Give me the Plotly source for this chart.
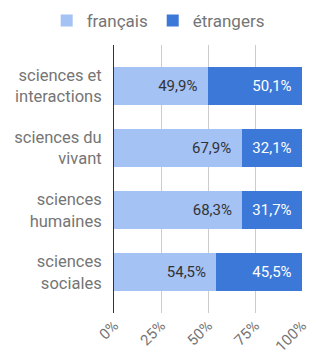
import plotly.graph_objects as go

categories = ["sciences et<br>interactions", "sciences du<br>vivant", "sciences<br>humaines", "sciences<br>sociales"]
francais = [0.499, 0.679, 0.683, 0.545]
etrangers = [0.501, 0.321, 0.317, 0.455]
tick_vals = [0, 0.25, 0.5, 0.75, 1.0]
tick_text = ["0%", "25%", "50%", "75%", "100%"]

pad = "\u00a0\u00a0"
fig = go.Figure()
fig.add_trace(go.Bar(
    y=categories, x=francais, name="français", orientation="h",
    marker=dict(color="#a4c2f4", line=dict(width=0)),
    texttemplate="%{x:.1%}" + pad, textposition="inside", insidetextanchor="end",
    textfont=dict(color="#333333", size=15),
))
fig.add_trace(go.Bar(
    y=categories, x=etrangers, name="étrangers", orientation="h",
    marker=dict(color="#3c78d8", line=dict(width=0)),
    texttemplate="%{x:.1%}" + pad, textposition="inside", insidetextanchor="end",
    textfont=dict(color="#ffffff", size=15),
))

fig.update_layout(
    width=312, height=361,
    barmode="stack", bargap=0.39,
    separators=", ",
    font=dict(family="Roboto", color="#666666", size=14),
    paper_bgcolor="white", plot_bgcolor="white",
    margin=dict(l=113.5, r=10, t=45, b=48, autoexpand=False),
    showlegend=True,
    legend=dict(orientation="h", x=(46 - 113.5) / 188.5, xanchor="left", xref="paper",
                y=1 + 6 / 268, yanchor="bottom", yref="paper",
                font=dict(size=17, color="#757575"),
                itemwidth=30, traceorder="normal"),
    uniformtext=dict(mode="show", minsize=10),
)
fig.update_xaxes(
    range=[0, 1], tickvals=tick_vals, ticktext=tick_text, tickangle=-45,
    showgrid=True, gridcolor="#cccccc", gridwidth=1, zeroline=False,
    tickfont=dict(size=15, color="#757575"), fixedrange=True,
)
fig.update_yaxes(
    categoryorder="array", categoryarray=categories[::-1],
    range=[-0.66, 3.66],
    showline=True, linecolor="#333333", linewidth=1,
    ticks="", ticklabelstandoff=8,
    tickfont=dict(size=16.5, color="#757575"), fixedrange=True,
)
fig.write_html("out.html", config={"displayModeBar": False},
               post_script="document.body.style.margin='0';")
